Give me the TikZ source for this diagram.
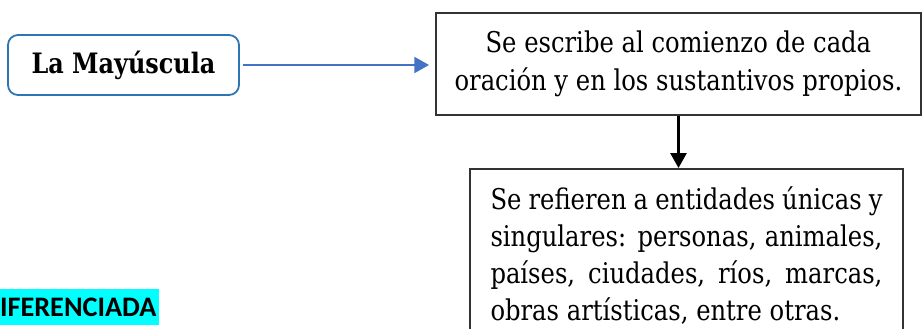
\documentclass[tikz,border=0pt]{standalone}
\usepackage{fontspec}
\setmainfont{DejaVu Serif}[FakeStretch=0.85]
\newfontfamily\hlfont{Carlito}
\usetikzlibrary{arrows.meta}
\definecolor{boxblue}{HTML}{2E75B6}
\definecolor{arrowblue}{HTML}{4472C4}
\definecolor{hlcyan}{HTML}{00FFFF}
\begin{document}
\begin{tikzpicture}[
    textbox/.style={draw=black!80, line width=1.2pt, inner sep=0pt, align=center,
        font=\fontsize{20.3}{26.6}\selectfont},
    flow/.style={-{Triangle[length=0.37cm,width=0.4cm]}, line width=1.5pt}
]% Example:

\useasboundingbox (0,0) rectangle (23.05,-8.225);
\node[draw=boxblue, line width=1.3pt, rounded corners=0.25cm, minimum width=5.775cm,
    minimum height=1.5cm, font=\bfseries\fontsize{20}{24}\selectfont]
    (title) at (3.0875,-1.625) {La Mayúscula};
\node[textbox, minimum width=12.125cm, minimum height=2.55cm]
    (rule) at (16.96,-1.6) {Se escribe al comienzo de cada\\oración y en los sustantivos propios.};
\node[textbox, anchor=north, text width=9.8cm, align=justify, inner xsep=0.51cm,
    inner ysep=0.45cm, font=\fontsize{20.3}{26.2}\selectfont] (names) at (17.1625,-4.2)
    {Se refieren a entidades únicas y\linebreak singulares: personas, animales,\linebreak
    países, ciudades, ríos, marcas,\linebreak obras artísticas, entre otras.\par\vspace{1cm}};
\node[fill=hlcyan, inner sep=0pt, text width=3.975cm, minimum height=0.9cm, align=left,
    font=\hlfont\bfseries\fontsize{20.1}{22}\selectfont] (tag) at (1.9875,-7.675) {IFERENCIADA};
% connectors
\draw[flow, arrowblue, line width=1.7pt, shorten <=0.075cm, shorten >=0.15cm]
    (title.east) -- (rule.west |- title.east);
\draw[flow] (rule.south -| names.north) ++(-0.2,0) coordinate (c)
    (rule.south -| c) -- (names.north -| c);

\end{tikzpicture}
\end{document}
